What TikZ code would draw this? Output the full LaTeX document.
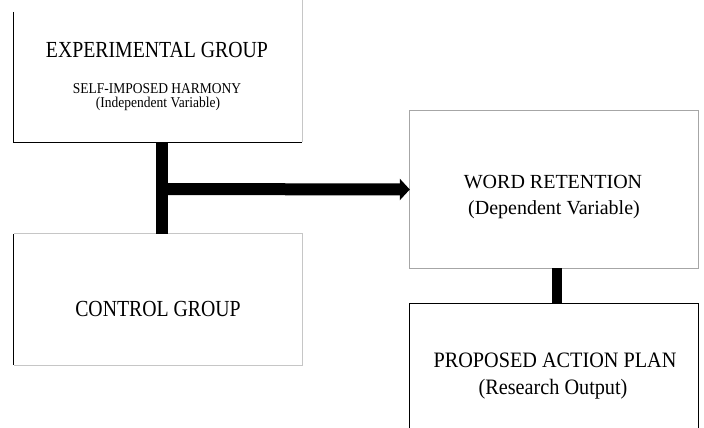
\documentclass[tikz,border=0pt]{standalone}
\usepackage{fontspec}
\setmainfont{Liberation Serif}
\newfontfamily\bigleft[FakeStretch=0.86]{Liberation Serif}
\newfontfamily\bigright[FakeStretch=0.92]{Liberation Serif}
\newfontfamily\smallf[FakeStretch=0.9]{Liberation Serif}
\usetikzlibrary{arrows.meta,calc}
\tikzset{
  box/.style={rectangle,draw=none,fill=white,inner sep=0pt,minimum width=288pt},
  txt/.style={inner sep=0pt,anchor=base},
  edgeb/.style={draw=black,line width=0.9pt},
  edgeg/.style={draw=gray!45,line width=0.9pt},
  bar/.style={line width=12pt,draw=black},
}
\begin{document}
\begin{tikzpicture}[x=1pt,y=-1pt]
\useasboundingbox[fill=white] (0,0) rectangle (704,428);
% boxes
\node[box,minimum height=142pt] (exp) at (158,71) {};
\node[box,minimum height=131pt] (ctrl) at (158,299.5) {};
\node[box,minimum height=157pt] (ret) at (554,189.5) {};
\node[box,minimum height=136pt] (plan) at (554,372) {};
% edges of boxes
\draw[edgeb] ($(exp.north west)+(0,12)$) -- (exp.south west) -- (exp.south east);
\draw[edgeg] (exp.south east) -- (exp.north east);
\draw[edgeb] (ctrl.north west) -- (ctrl.south west);
\draw[edgeg] (ctrl.south west) -- (ctrl.south east) -- (ctrl.north east) -- (ctrl.north west);
\draw[draw=gray!70,line width=0.9pt] (ret.north west) rectangle (ret.south east);
\draw[edgeb] (plan.south west) -- (plan.north west) -- (plan.north east) -- (plan.south east);
% connectors
\coordinate (j) at (162,189);
\draw[bar] (exp.south -| j) -- (ctrl.north -| j);
\draw[bar,-{Triangle[length=10pt,width=21pt]}] (j) -- (ret.west);
\draw[line width=10pt] ($(ret.south)+(3,0)$) -- ($(plan.north)+(3,0)$);
% texts
\node[txt,font=\bigleft\fontsize{23}{26}\selectfont] (t1) at (157,58) {EXPERIMENTAL GROUP};
\node[txt,font=\smallf\fontsize{15}{17}\selectfont] (t2) at (157,93) {SELF-IMPOSED HARMONY};
\node[txt,font=\smallf\fontsize{15}{17}\selectfont] (t3) at (158,107) {(Independent Variable)};
\node[txt,font=\bigleft\fontsize{23}{26}\selectfont] (t4) at (158,316) {CONTROL GROUP};
\node[txt,font=\fontsize{20}{23}\selectfont] (t5) at (553,188) {WORD RETENTION};
\node[txt,font=\fontsize{20}{23}\selectfont] (t6) at (554,214) {(Dependent Variable)};
\node[txt,font=\bigright\fontsize{22}{25}\selectfont] (t7) at (555,367) {PROPOSED ACTION PLAN};
\node[txt,font=\bigright\fontsize{22}{25}\selectfont] (t8) at (553,394) {(Research Output)};
\end{tikzpicture}
\end{document}
